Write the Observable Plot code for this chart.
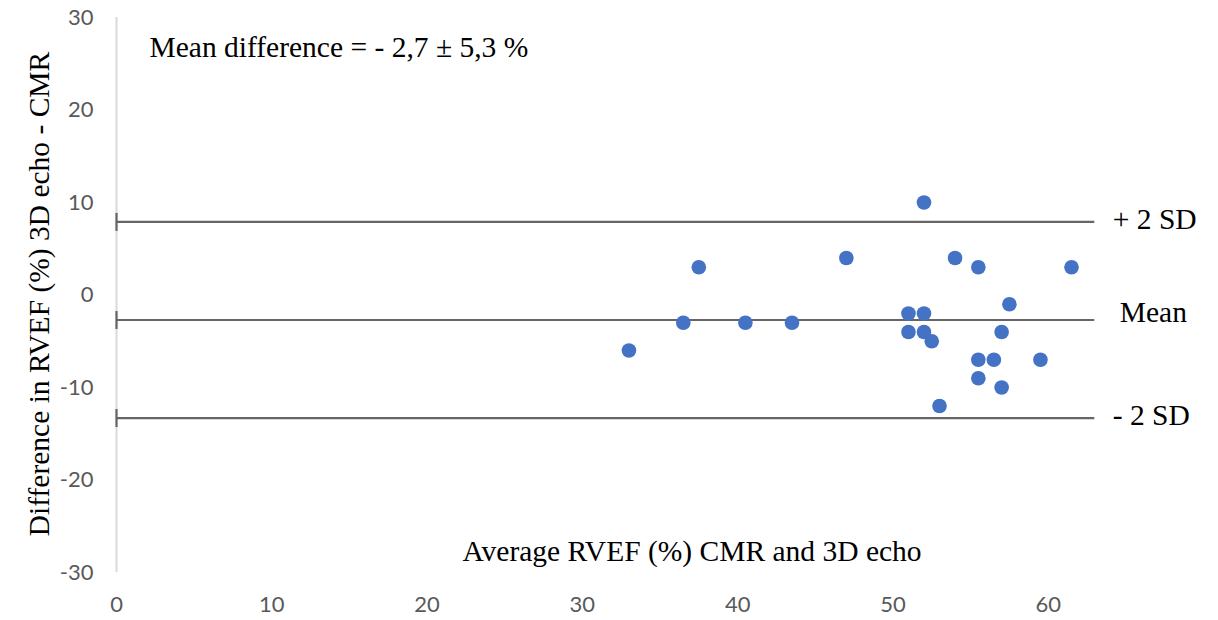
<!DOCTYPE html>
<html><head><meta charset="utf-8">
<script src="https://cdn.jsdelivr.net/npm/d3@7"></script>
<script src="https://cdn.jsdelivr.net/npm/@observablehq/plot@0.6"></script>
<style>body{margin:0;background:#fff}</style>
</head><body><div id="chart"></div>
<script>
// Data
const avgRVEF  = [33, 36.5, 37.5, 40.5, 43.5, 47, 51, 51, 52, 52, 52, 52.5, 53, 54, 55.5, 55.5, 55.5, 56.5, 57, 57, 57.5, 59.5, 61.5];
const diffRVEF = [-6, -3, 3, -3, -3, 4, -2, -4, 10, -2, -4, -5, -12, 4, 3, -7, -9, -7, -4, -10, -1, -7, 3];
const xTicks = [0, 10, 20, 30, 40, 50, 60];
const yTicks = [-30, -20, -10, 0, 10, 20, 30];
const meanDiff = -2.7;
const sdDiff = 5.3;
const limitLabels = ["+ 2 SD", "Mean", "- 2 SD"];
const limitValues = [meanDiff + 2 * sdDiff, meanDiff, meanDiff - 2 * sdDiff];
const lineStart = 0;
const lineEnd = 63;
const annotation = "Mean difference = - 2,7 ± 5,3 %";
const xLabel = "Average RVEF (%) CMR and 3D echo";
const yLabel = "Difference in RVEF (%) 3D echo - CMR";

const points = avgRVEF.map((x, i) => ({x, y: diffRVEF[i]}));
const limits = limitLabels.map((label, i) => ({label, v: limitValues[i]}));

const serif = "'Liberation Serif', 'Times New Roman', serif";
const capSymbol = {draw(ctx) { ctx.moveTo(0, -9); ctx.lineTo(0, 9); }};
const fmt = d => String(d);

const chart = Plot.plot({
  width: 1218,
  height: 620,
  marginLeft: 116,
  marginRight: 15,
  marginTop: 17,
  marginBottom: 48,
  style: {fontFamily: "Lato, 'Open Sans', sans-serif", fontSize: "22px", background: "#fff"},
  x: {domain: [0, 70]},
  y: {domain: [-30, 30]},
  marks: [
    Plot.axisX({ticks: xTicks, tickFormat: fmt, tickSize: 0, tickPadding: 24, color: "#595959", label: null, fontSize: 22}),
    Plot.axisY({ticks: yTicks, tickFormat: fmt, tickSize: 0, tickPadding: 23, color: "#595959", label: null, fontSize: 22}),
    Plot.ruleX([0], {y1: -30, y2: 30, stroke: "#d9d9d9", strokeWidth: 2}),
    Plot.ruleY(limits, {y: "v", x1: () => lineStart, x2: () => lineEnd, stroke: "#666666", strokeWidth: 2.2}),
    Plot.dot(limits, {x: () => lineStart, y: "v", symbol: capSymbol, stroke: "#666666", strokeWidth: 2.2, fill: "none"}),
    Plot.dot(points, {x: "x", y: "y", r: 7.3, fill: "#4472C4"}),
    Plot.text(limits.filter(d => d.label !== "Mean"), {x: () => lineEnd, y: "v", text: "label", textAnchor: "start", dx: 18, dy: -2, fontFamily: serif, fontSize: 29.5, fill: "#000"}),
    Plot.text(limits.filter(d => d.label === "Mean"), {x: () => lineEnd, y: "v", text: "label", textAnchor: "start", dx: 25, dy: -7, fontFamily: serif, fontSize: 29.5, fill: "#000"}),
    Plot.text([annotation], {frameAnchor: "top-left", text: d => d, dx: 33, dy: 30, textAnchor: "start", lineAnchor: "middle", fontFamily: serif, fontSize: 29.5, fill: "#000"}),
    Plot.text([xLabel], {frameAnchor: "bottom", text: d => d, dx: 32, dy: -21, textAnchor: "middle", lineAnchor: "middle", fontFamily: serif, fontSize: 29.5, fill: "#000"}),
    Plot.text([yLabel], {frameAnchor: "left", text: d => d, dx: -77, dy: -1, rotate: -90, textAnchor: "middle", lineAnchor: "middle", fontFamily: serif, fontSize: 29.5, fill: "#000"})
  ]
});
document.getElementById("chart").appendChild(chart);
</script>
</body></html>
